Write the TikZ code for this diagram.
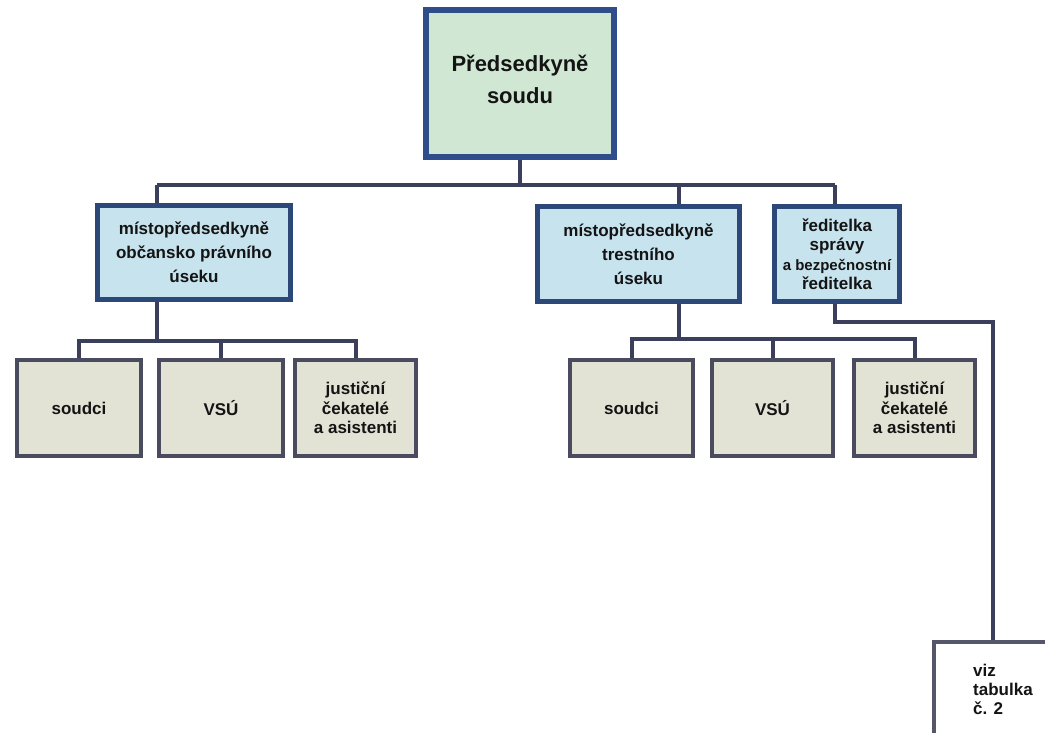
\documentclass[tikz,border=0pt]{standalone}
\usepackage{fontspec}
\setmainfont{Liberation Sans}
\usetikzlibrary{backgrounds}
\definecolor{topfill}{HTML}{D0E8D3}
\definecolor{topline}{HTML}{2E4D8A}
\definecolor{midfill}{HTML}{C7E3ED}
\definecolor{midline}{HTML}{2B4878}
\definecolor{botfill}{HTML}{E2E3D5}
\definecolor{botline}{HTML}{4A4B5E}
\definecolor{connline}{HTML}{3B3F5C}
\definecolor{vizline}{HTML}{55566A}
\definecolor{txtcol}{HTML}{141414}
\begin{document}
\begin{tikzpicture}[x=1pt,y=-1pt,
  topbox/.style={draw=topline, line width=6.5pt, fill=topfill, minimum width=188pt, minimum height=147pt, inner sep=0pt, align=center, text=txtcol, text depth=9pt, font=\bfseries\fontsize{22}{32}\selectfont},
  midbox/.style={draw=midline, line width=5pt, fill=midfill, minimum height=94pt, inner sep=0pt, align=center, text=txtcol, font=\bfseries\fontsize{17}{24}\selectfont},
  botbox/.style={draw=botline, line width=4.5pt, fill=botfill, minimum height=96pt, inner sep=0pt, align=center, text=txtcol, font=\bfseries\fontsize{17}{19.5}\selectfont},
  vizbox/.style={draw=vizline, line width=4pt, fill=white, minimum width=200pt, minimum height=150pt, inner sep=0pt},
  vtxt/.style={inner sep=0pt, align=left, text=txtcol, font=\bfseries\fontsize{17}{19}\selectfont},
  conn/.style={draw=connline, line width=4pt}]
\useasboundingbox (0,0) rectangle (1045,733);
\clip (0,0) rectangle (1045,733);

\node[topbox] (top) at (520,83.5) {Předsedkyně\\soudu};
\node[midbox, minimum width=193pt] (obc) at (194,252.5) {místopředsedkyně\\občansko právního\\úseku};
\node[midbox, minimum width=202pt] (tr) at (638.5,254) {místopředsedkyně\\trestního\\úseku};
\node[midbox, minimum width=125pt, minimum height=95pt, font=\bfseries\fontsize{17}{19.5}\selectfont] (red) at (837,254) {ředitelka\\správy\\{\fontsize{15}{19.5}\selectfont a bezpečnostní}\\ředitelka};

\node[botbox, minimum width=124pt] (ls) at (79,408) {soudci};
\node[botbox, minimum width=124pt] (lv) at (221,408) {VSÚ};
\node[botbox, minimum width=121pt] (lj) at (355.5,408) {justiční\\čekatelé\\a asistenti};
\node[botbox, minimum width=123pt] (rs) at (631.5,408) {soudci};
\node[botbox, minimum width=121pt] (rv) at (772.5,408) {VSÚ};
\node[botbox, minimum width=121pt] (rj) at (914.5,408) {justiční\\čekatelé\\a asistenti};

\node[vizbox, anchor=north west] (viz) at (932,640) {};
\node[vtxt, anchor=west] (viztxt) at (973,689) {viz\\tabulka\\č. 2};

\coordinate (bus) at (520,185);
\coordinate (busL) at (157,185);
\coordinate (busB) at (679,185);
\coordinate (busR) at (835,185);
\coordinate (lA) at (157,341);
\coordinate (rB) at (679,339);
\coordinate (cC) at (835,322);
\coordinate (cV) at (993,322);

\begin{scope}[on background layer]
\draw[conn] (top.south) -- (bus);
\draw[conn] (busL) -- (busR);
\draw[conn] (busL) -- (busL |- obc.north);
\draw[conn] (busB) -- (busB |- tr.north);
\draw[conn] (busR) -- (busR |- red.north);

\draw[conn] (lA |- obc.south) -- (lA);
\draw[conn] (ls.north) |- (lA) -| (lj.north);
\draw[conn] (lA -| lv.north) -- (lv.north);

\draw[conn] (rB |- tr.south) -- (rB);
\draw[conn] (rs.north) |- (rB) -| (rj.north);
\draw[conn] (rB -| rv.north) -- (rv.north);

\draw[conn] (cC |- red.south) -- (cC) -- (cV) -- (cV |- viz.north);
\end{scope}
\end{tikzpicture}
\end{document}
